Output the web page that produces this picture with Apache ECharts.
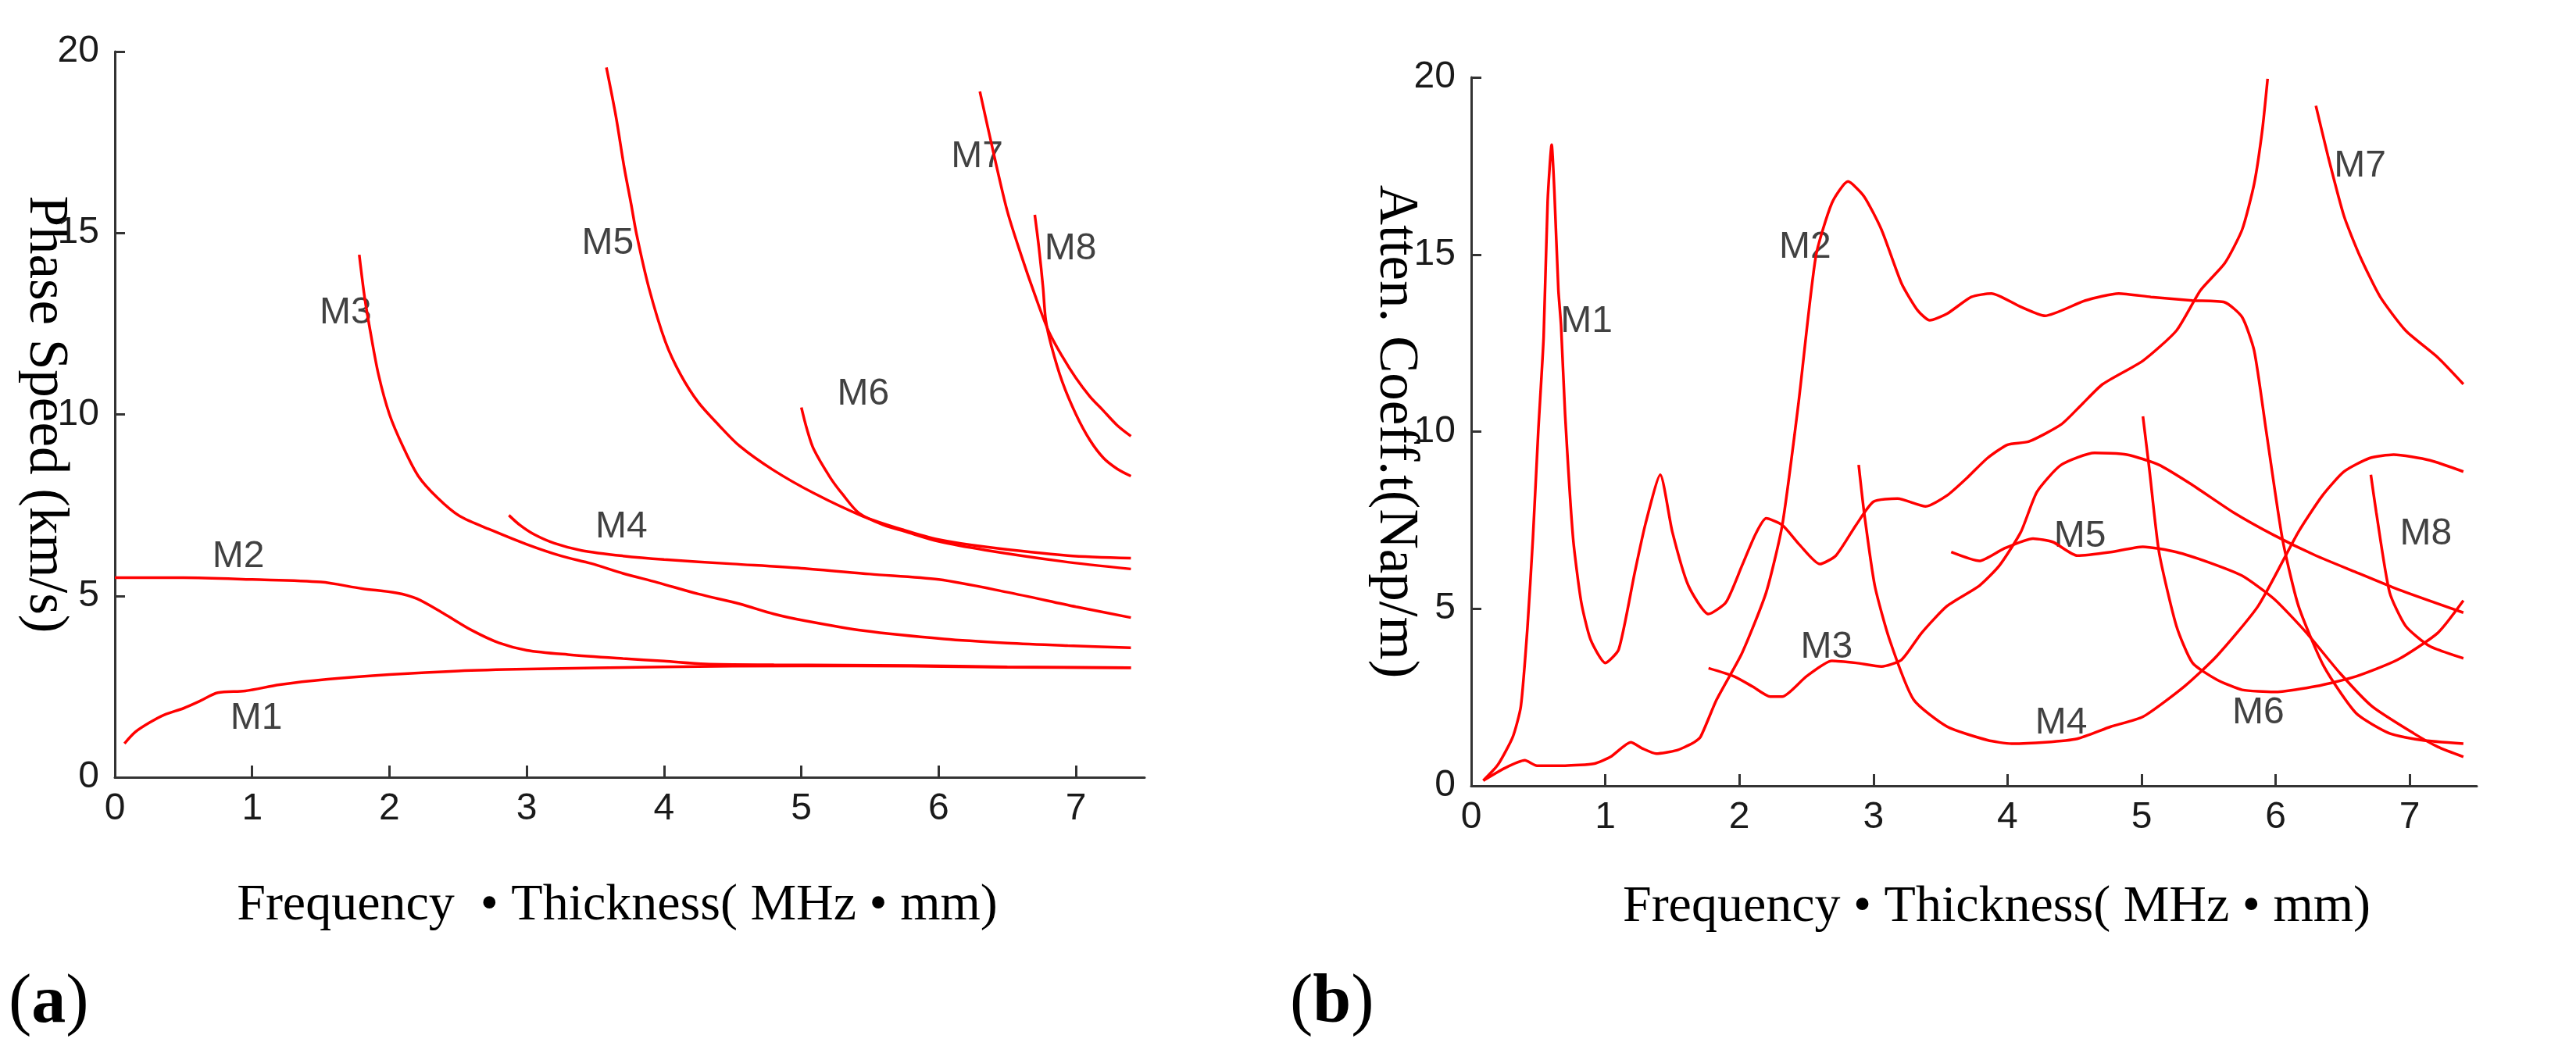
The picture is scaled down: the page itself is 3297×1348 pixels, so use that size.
<!DOCTYPE html>
<html>
<head>
<meta charset="utf-8">
<script src="https://cdn.jsdelivr.net/npm/echarts@6/dist/echarts.min.js"></script>
<style>
  html, body { margin: 0; padding: 0; background: #fff; }
  #main { width: 3297px; height: 1348px; }
</style>
</head>
<body>
<div id="main"></div>
<script>
// tick values
var xTicks = [0, 1, 2, 3, 4, 5, 6, 7];
var yTicks = [0, 5, 10, 15, 20];
var modeNames = ['M1', 'M2', 'M3', 'M4', 'M5', 'M6', 'M7', 'M8'];

// (a) phase speed, km/s  -- [fd, value]
var phaseM1 = [[0.07,0.93],[0.15,1.25],[0.25,1.5],[0.36,1.72],[0.5,1.9],[0.62,2.1],[0.75,2.33],[0.95,2.38],[1.2,2.55],[1.55,2.7],[2.0,2.83],[2.5,2.93],[3.0,2.98],[4.0,3.04],[5.0,3.07],[5.8,3.06],[6.5,3.03],[7.4,3.02]];
var phaseM2 = [[0,5.5],[0.5,5.5],[1.0,5.45],[1.5,5.38],[1.8,5.2],[2.05,5.08],[2.2,4.92],[2.4,4.5],[2.6,4.05],[2.8,3.7],[3.0,3.5],[3.3,3.38],[3.7,3.27],[4.0,3.2],[4.3,3.12],[4.8,3.1],[5.8,3.08],[6.5,3.04],[7.4,3.02]];
var phaseM3 = [[1.78,14.4],[1.82,13.2],[1.86,12.3],[1.92,11.1],[2.0,10.0],[2.1,9.1],[2.21,8.3],[2.35,7.7],[2.51,7.2],[2.75,6.8],[3.0,6.42],[3.25,6.1],[3.47,5.89],[3.7,5.62],[3.95,5.37],[4.25,5.05],[4.55,4.78],[4.8,4.5],[5.03,4.31],[5.45,4.04],[6.04,3.81],[6.5,3.7],[6.94,3.63],[7.4,3.57]];
var phaseM4 = [[2.87,7.22],[2.95,6.95],[3.05,6.7],[3.2,6.45],[3.4,6.25],[3.7,6.1],[4.0,6.0],[4.5,5.88],[5.0,5.76],[5.5,5.6],[6.0,5.45],[6.5,5.1],[7.0,4.7],[7.4,4.4]];
var phaseM5 = [[3.58,19.56],[3.65,18.2],[3.71,16.8],[3.76,15.8],[3.8,14.96],[3.89,13.48],[4.01,12.0],[4.12,11.1],[4.25,10.33],[4.4,9.7],[4.55,9.13],[4.79,8.48],[5.09,7.83],[5.45,7.19],[5.75,6.81],[6.0,6.55],[6.34,6.35],[6.94,6.11],[7.4,6.04]];
var phaseM6 = [[5.0,10.19],[5.04,9.6],[5.09,9.04],[5.21,8.26],[5.3,7.8],[5.42,7.28],[5.6,6.95],[5.75,6.78],[6.0,6.5],[6.34,6.26],[6.9,5.95],[7.4,5.74]];
var phaseM7 = [[6.3,18.9],[6.4,17.2],[6.5,15.6],[6.6,14.4],[6.7,13.3],[6.8,12.3],[6.9,11.6],[7.0,11.0],[7.1,10.5],[7.2,10.1],[7.3,9.7],[7.4,9.4]];
var phaseM8 = [[6.7,15.5],[6.73,14.6],[6.76,13.5],[6.78,12.6],[6.82,11.9],[6.9,10.9],[7.0,10.0],[7.1,9.3],[7.2,8.8],[7.3,8.5],[7.4,8.3]];
var phaseLabelPos = [[1.03,1.63],[0.9,6.07],[1.68,12.8],[3.69,6.9],[3.59,14.7],[5.45,10.55],[6.28,17.1],[6.96,14.55]];

// (b) attenuation coefficient, Nap/m
var attenM1 = [[0.09,0.15],[0.2,0.6],[0.31,1.38],[0.37,2.24],[0.42,4.5],[0.46,6.98],[0.5,10],[0.54,12.66],[0.57,16.5],[0.6,18.1],[0.62,16.8],[0.65,14],[0.67,13.0],[0.7,10.5],[0.76,6.98],[0.82,5.2],[0.89,4.13],[1.0,3.47],[1.1,3.85],[1.22,6.03],[1.3,7.4],[1.41,8.78],[1.5,7.17],[1.62,5.65],[1.77,4.85],[1.9,5.18],[2.02,6.22],[2.12,7.1],[2.2,7.55],[2.32,7.36],[2.45,6.8],[2.6,6.26],[2.72,6.5],[2.87,7.36],[3.0,8.02],[3.18,8.11],[3.39,7.89],[3.55,8.2],[3.7,8.7],[3.85,9.25],[4.0,9.63],[4.16,9.72],[4.4,10.2],[4.55,10.75],[4.71,11.34],[5.01,12.0],[5.26,12.85],[5.44,13.99],[5.62,14.75],[5.75,15.7],[5.84,17.0],[5.9,18.5],[5.94,19.96]];
var attenM2 = [[0.09,0.15],[0.25,0.5],[0.4,0.72],[0.49,0.57],[0.7,0.57],[0.92,0.63],[1.04,0.82],[1.19,1.23],[1.28,1.05],[1.38,0.91],[1.53,1.0],[1.65,1.2],[1.71,1.38],[1.83,2.43],[2.02,3.75],[2.2,5.46],[2.32,7.36],[2.44,10.77],[2.57,14.94],[2.69,16.45],[2.81,17.06],[2.93,16.64],[3.06,15.7],[3.21,14.18],[3.33,13.42],[3.42,13.14],[3.55,13.33],[3.73,13.8],[3.88,13.9],[4.1,13.52],[4.28,13.27],[4.58,13.7],[4.83,13.9],[5.07,13.8],[5.38,13.7],[5.62,13.65],[5.75,13.23],[5.84,12.28],[5.93,10.0],[6.05,6.98],[6.17,5.08],[6.36,3.37],[6.6,2.05],[6.85,1.48],[7.09,1.29],[7.4,1.19]];
var attenM3 = [[1.77,3.32],[1.96,3.09],[2.1,2.8],[2.23,2.52],[2.32,2.52],[2.5,3.09],[2.69,3.53],[2.87,3.47],[3.06,3.37],[3.21,3.56],[3.36,4.32],[3.55,5.08],[3.79,5.65],[3.94,6.22],[4.1,7.17],[4.22,8.3],[4.4,9.06],[4.65,9.4],[4.89,9.35],[5.13,9.06],[5.38,8.49],[5.68,7.73],[5.99,7.07],[6.3,6.5],[6.6,6.03],[6.91,5.55],[7.4,4.89]];
var attenM4 = [[2.89,9.06],[2.93,7.73],[3.01,5.65],[3.12,4.13],[3.3,2.43],[3.55,1.67],[3.85,1.29],[4.03,1.19],[4.28,1.23],[4.52,1.33],[4.77,1.67],[5.01,1.95],[5.32,2.81],[5.56,3.66],[5.87,5.08],[6.17,7.17],[6.35,8.2],[6.51,8.87],[6.7,9.25],[6.88,9.35],[7.15,9.19],[7.4,8.87]];
var attenM5 = [[3.58,6.6],[3.79,6.35],[3.97,6.69],[4.19,6.98],[4.34,6.88],[4.52,6.5],[4.77,6.6],[5.01,6.75],[5.26,6.6],[5.5,6.31],[5.75,5.93],[5.99,5.27],[6.23,4.32],[6.48,3.18],[6.72,2.24],[7.03,1.48],[7.21,1.1],[7.4,0.82]];
var attenM6 = [[5.01,10.43],[5.06,8.87],[5.13,6.6],[5.26,4.51],[5.38,3.47],[5.56,3.0],[5.75,2.71],[5.99,2.65],[6.3,2.81],[6.6,3.09],[6.91,3.56],[7.21,4.32],[7.4,5.23]];
var attenM7 = [[6.3,19.2],[6.39,17.78],[6.51,16.08],[6.63,14.94],[6.78,13.8],[6.97,12.85],[7.21,12.09],[7.4,11.34]];
var attenM8 = [[6.71,8.78],[6.75,7.73],[6.85,5.46],[6.97,4.51],[7.15,3.94],[7.4,3.6]];
var attenLabelPos = [[0.86,13.1],[2.49,15.2],[2.65,3.9],[4.4,1.76],[4.54,7.03],[5.87,2.05],[6.63,17.5],[7.12,7.1]];

var phaseCurves = [phaseM1, phaseM2, phaseM3, phaseM4, phaseM5, phaseM6, phaseM7, phaseM8];
var attenCurves = [attenM1, attenM2, attenM3, attenM4, attenM5, attenM6, attenM7, attenM8];

var myChart = echarts.init(document.getElementById('main'));

var tickFont = {
    fontFamily: 'Liberation Sans',
    fontSize: 48,
    lineHeight: 48,
    color: '#1a1a1a'
};
var titleFont = {
    fontFamily: 'Liberation Serif',
    fontSize: 66,
    lineHeight: 66,
    color: '#000'
};

function makeX(gridIndex, gap, pad) {
    return {
        type: 'value', gridIndex: gridIndex, min: 0, max: 7.5,
        name: gridIndex === 0 ? 'Frequency  \u2022 Thickness( MHz \u2022 mm)' : 'Frequency \u2022 Thickness( MHz \u2022 mm)',
        nameLocation: 'middle', nameGap: gap, nameMoveOverlap: false,
        nameTextStyle: Object.assign({ padding: pad }, titleFont),
        splitLine: { show: false },
        axisLine: { lineStyle: { color: '#333', width: 3 } },
        axisTick: { inside: true, length: 15, customValues: xTicks, lineStyle: { color: '#333', width: 3 } },
        axisLabel: Object.assign({ margin: 17, customValues: xTicks }, tickFont)
    };
}

function makeY(gridIndex, name, gap) {
    return {
        type: 'value', gridIndex: gridIndex, min: 0, max: 20, interval: 5,
        name: name, nameLocation: 'middle', nameGap: gap, nameRotate: -90, nameMoveOverlap: false,
        nameTextStyle: Object.assign({}, titleFont, { fontSize: 71, lineHeight: 71 }),
        splitLine: { show: false },
        axisLine: { show: true, lineStyle: { color: '#333', width: 3 } },
        axisTick: { show: true, inside: true, length: 13, customValues: yTicks, lineStyle: { color: '#333', width: 3 } },
        axisLabel: Object.assign({ margin: 20, customValues: yTicks }, tickFont)
    };
}

var series = [];
phaseCurves.forEach(function (d, i) {
    series.push({
        name: '(a) ' + modeNames[i], type: 'line', xAxisIndex: 0, yAxisIndex: 0,
        data: d, showSymbol: false, smooth: 0.3,
        lineStyle: { color: '#ff0000', width: 3.5 }
    });
});
attenCurves.forEach(function (d, i) {
    series.push({
        name: '(b) ' + modeNames[i], type: 'line', xAxisIndex: 1, yAxisIndex: 1,
        data: d, showSymbol: false, smooth: 0.2,
        lineStyle: { color: '#ff0000', width: 3.5 }
    });
});

function labelSeries(axisIndex, pos) {
    return {
        type: 'scatter', xAxisIndex: axisIndex, yAxisIndex: axisIndex,
        symbolSize: 1, itemStyle: { color: 'rgba(0,0,0,0)' }, silent: true,
        label: Object.assign({ show: true, position: 'inside', formatter: '{b}' }, tickFont, { color: '#111' }),
        data: pos.map(function (p, i) { return { name: modeNames[i], value: p }; })
    };
}
series.push(labelSeries(0, phaseLabelPos));
series.push(labelSeries(1, attenLabelPos));

var panelRich = {
    p: { fontFamily: 'Liberation Serif', fontSize: 88, fontWeight: 'normal', color: '#000' },
    b: { fontFamily: 'Liberation Serif', fontSize: 88, fontWeight: 'bold', color: '#000' }
};

myChart.setOption({
    animation: false,
    backgroundColor: '#fff',
    title: [
        { text: '{p|(}{b|a}{p|)}', left: 6, top: 1236, textStyle: { fontWeight: 'normal', rich: panelRich } },
        { text: '{p|(}{b|b}{p|)}', left: 1646, top: 1236, textStyle: { fontWeight: 'normal', rich: panelRich } }
    ],
    grid: [
        { left: 147, top: 66, width: 1318, height: 929 },
        { left: 1883, top: 99, width: 1287, height: 907 }
    ],
    xAxis: [makeX(0, 132, [0, 32, 0, 0]), makeX(1, 123, [0, 0, 0, 58])],
    yAxis: [makeY(0, 'Phase Speed (km/s)', 54), makeY(1, 'Atten. Coeff.t(Nap/m)', 62)],
    series: series
});
</script>
</body>
</html>
